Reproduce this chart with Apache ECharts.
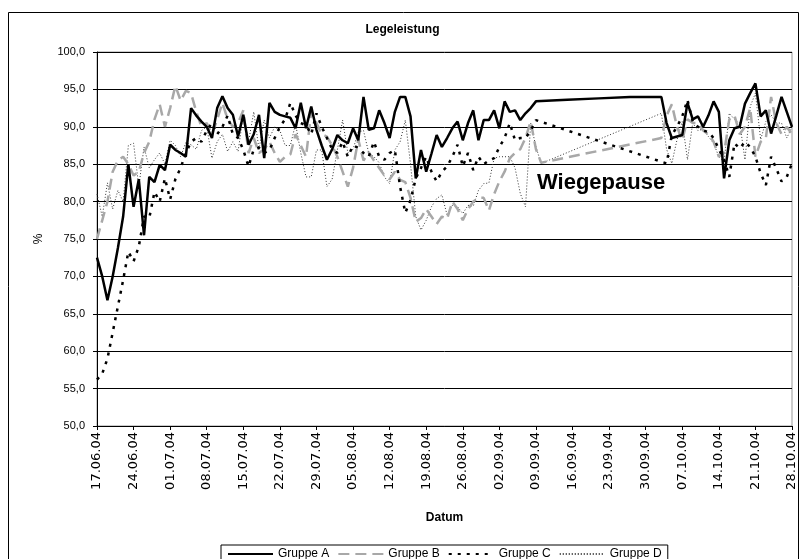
<!DOCTYPE html>
<html>
<head>
<meta charset="utf-8">
<script src="https://cdn.jsdelivr.net/npm/echarts@6/dist/echarts.min.js"></script>
<style>
  html, body { margin: 0; padding: 0; background: #fff; }
  #chart { width: 805px; height: 559px; }
</style>
</head>
<body>
<div id="chart"></div>
<script>
// one value per day, starting 17.06.04; null = no weighing that day
const startDate = [2004, 5, 17];
const dayCount = 134;

const gruppeA = [
  72.5, 70, 66.8, 70, 73.8, 78, 85, 79.3, 83, 75.5,
  83.3, 82.6, 84.9, 84.2, 87.6, 86.9, 86.5, 86, 92.5, 91.5,
  90.7, 90, 88.5, 92.5, 94.1, 92.5, 91.6, 88.7, 91.6, 87.6,
  89, 91.6, 85.8, 93.2, 92, 91.6, 91.4, 91.2, 89.8, 93.2,
  89.8, 92.7, 89.6, 87.5, 85.6, 87, 88.9, 88.2, 87.8, 89.8,
  88.2, 94, 89.6, 89.8, 92.2, 90.5, 88.5, 92, 94, 94,
  91.4, 83.1, 86.9, 84, 86.4, 88.9, 87.3, 88.5, 89.8, 90.7,
  88.2, 90.5, 92.2, 88.2, 90.9, 90.9, 92.2, 89.8, 93.4, 92,
  92.2, 90.9, 91.8, 92.5, 93.4, null, null, null, null, null,
  93.6, null, null, null, null, null, 93.8, null, null, null,
  null, null, 94, null, null, null, null, null, 94, 90.5,
  88.5, 88.7, 88.9, 93.2, 91, 91.4, 90, 91.5, 93.4, 92,
  83.1, 88.2, 89.8, 90, 93.1, 94.5, 95.8, 91.4, 92.2, 89.1,
  91.5, 94, 92, 90
];

const gruppeB = [
  75, 77.5, 80, 84, 85.5, 86, 85, 83.5, 84, 86.5,
  88, 91, 93, 90, 92.5, 95.5, 93.5, 94.8, 94.5, 92,
  90, 90.5, 89, 91, 93.2, 91, 90, 90.5, 92.2, 86.5,
  88.5, 86.5, 87, 88, 86.5, 85.3, 86, 86.3, 89, 87.5,
  86, 92, 90.5, 89, 88.7, 87.5, 86, 84, 82, 84.5,
  88.3, 85.5, 86.6, 85.5, 84.5, 83.5, 83, 84, 82.9, 82.6,
  80.5, 77.3, 77.8, 79, 78, 77, 78, 77.7, 80, 79,
  77.5, 79, 80, 80.5, 80.5, 78.8, 81, 82.7, 84, 85.8,
  86.5, 87, 88.5, 90.7, 87, 85.2, null, null, null, null,
  null, null, null, null, null, null, null, null, null, null,
  null, null, null, null, null, null, null, null, 88.5, 91.5,
  93, 90, 88.2, 91, 90.5, 90.5, 89.5, 89, 88, 86,
  86.5, 91, 91.5, 89, 90, 92.5, 86, 88, 88.5, 94,
  90.5, 89, 90, 89
];

const gruppeC = [
  56.2, 57, 59, 62.5, 66, 69.5, 73.3, 72, 74, 78,
  77.8, 81.3, 80, 83.1, 80.3, 83, 84.5, 86.5, 88, 88.5,
  88, 89.5, 90.5, 89, 90, 91.5, 89, 88.5, 86.9, 84.7,
  87, 87.2, 86.5, 86.9, 88.5, 90, 91, 93.2, 91.5, 90.5,
  90.2, 89, 91.8, 90, 88.5, 87, 86.5, 88, 86, 87.5,
  87.2, 86.5, 86, 88, 86, 85.6, 86.5, 86.9, 82, 78.5,
  80.2, 83.1, 84.5, 86, 84, 82.7, 84, 84.7, 86, 87.6,
  84.7, 86.5, 84.2, 86, 85, 85.5, 85.8, 87.3, 88.5, 90.5,
  88.2, 88.5, 88.5, 89.5, 90.9, null, null, null, null, null,
  null, null, null, null, null, null, null, null, null, null,
  null, null, null, null, null, null, null, null, null, 85.1,
  88.9, 90, 91.4, 93.6, 90.7, 90, 89.5, 89.3, 88.5, 87,
  85.6, 83.3, 87.8, 87.1, 88, 87.3, 86, 83.8, 82.2, 86,
  84.4, 82.7, 83.3, 85.1
];

const gruppeD = [
  81, 78, 82.5, 79, 81.5, 80, 87.5, 87.8, 82, 87.3,
  84.5, 85.6, 86.5, 85, 88.2, 87.5, 86, 87.9, 87.6, 87,
  89.5, 90, 85.8, 88, 89, 86.7, 88, 86.7, 91.6, 88,
  92, 87, 90.9, 88.5, 90, 89.5, 87.5, 87.5, 90.4, 86.5,
  83.3, 83.3, 86.9, 86.9, 82, 83, 86.9, 90.9, 86.5, 87,
  89.3, 89.5, 86.5, 86, 85.2, 83.3, 82.4, 86.9, 88, 90.9,
  85, 78, 76.2, 77.5, 79.3, 80.4, 80.9, 78.2, 79.5, 79.3,
  78.4, 79.5, 79.4, 81.5, 82.4, 82.5, 85.8, 86, 86, 86,
  84.5, 81.1, 79.3, 90.5, 87.3, 85.1, null, null, null, null,
  null, null, null, null, null, null, null, null, null, null,
  null, null, null, null, null, null, null, null, 91.8, 87,
  85.1, 88.3, 90.7, 85.6, 90.5, 89.5, 89.7, 88.7, 87.8, 86,
  85.3, 91.8, 91, 90.5, 85.6, 92.7, 94.5, 88.3, 90.7, 91.6,
  90.5, 90.5, 88.5, 90
];

const seriesNames = ['Gruppe A', 'Gruppe B', 'Gruppe C', 'Gruppe D'];

function pad(n) { return n < 10 ? '0' + n : '' + n; }
const dates = [];
for (let i = 0; i < dayCount; i++) {
  const d = new Date(startDate[0], startDate[1], startDate[2] + i);
  dates.push(pad(d.getDate()) + '.' + pad(d.getMonth() + 1) + '.' + pad(d.getFullYear() % 100));
}

const font = 'Liberation Sans, Arial, sans-serif';
const chart = echarts.init(document.getElementById('chart'));

chart.setOption({
  animation: false,
  backgroundColor: '#fff',
  textStyle: { fontFamily: font, color: '#000' },
  title: {
    text: 'Legeleistung',
    left: 'center',
    top: 19,
    textStyle: { fontSize: 12, fontWeight: 'bold', color: '#000', fontFamily: font }
  },
  graphic: [
    {
      type: 'rect',
      shape: { x: 8.5, y: 12.5, width: 790, height: 560 },
      style: { fill: 'none', stroke: '#000', lineWidth: 1 },
      silent: true
    },
    {
      type: 'text',
      left: 537,
      top: 172,
      style: { text: 'Wiegepause', fill: '#000', font: 'bold 22px Liberation Sans, Arial, sans-serif' }
    }
  ],
  legend: {
    data: seriesNames,
    left: 221,
    top: 545,
    itemWidth: 45,
    itemHeight: 8,
    itemGap: 8,
    padding: [3, 6, 6, 6],
    borderColor: '#000',
    borderWidth: 1,
    borderRadius: 0,
    itemStyle: { opacity: 0 },
    textStyle: { fontSize: 12, color: '#000', fontFamily: font }
  },
  grid: {
    left: 97,
    right: 13,
    top: 52,
    bottom: 133,
    show: true,
    borderColor: '#999',
    borderWidth: 1
  },
  xAxis: {
    type: 'category',
    data: dates,
    boundaryGap: false,
    name: 'Datum',
    nameLocation: 'middle',
    nameGap: 86,
    nameTextStyle: { fontSize: 12, fontWeight: 'bold', color: '#000' },
    axisLine: { lineStyle: { color: '#000', width: 1 } },
    axisTick: { interval: 6, length: 4, lineStyle: { color: '#000' } },
    axisLabel: {
      interval: 6, rotate: 90, fontSize: 13, color: '#000', margin: 6,
      fontFamily: 'DejaVu Sans, sans-serif'
    },
    splitLine: { show: false }
  },
  yAxis: {
    type: 'value',
    min: 50,
    max: 100,
    interval: 5,
    name: '%',
    nameLocation: 'middle',
    nameGap: 52,
    nameRotate: 90,
    nameTextStyle: { fontSize: 12, color: '#000' },
    axisLine: { show: true, lineStyle: { color: '#000', width: 1 } },
    axisTick: { show: true, length: 4, lineStyle: { color: '#000' } },
    axisLabel: {
      fontSize: 11,
      color: '#000',
      margin: 12,
      formatter: function (v) { return v.toFixed(1).replace('.', ','); }
    },
    splitLine: { lineStyle: { color: '#000', width: 1 } }
  },
  series: [
    {
      name: 'Gruppe A', type: 'line', data: gruppeA, connectNulls: true,
      symbol: 'none', z: 5,
      lineStyle: { color: '#000', width: 2.5 },
      itemStyle: { color: '#000' }
    },
    {
      name: 'Gruppe B', type: 'line', data: gruppeB, connectNulls: true,
      symbol: 'none', z: 3,
      lineStyle: { color: '#a8a8a8', width: 2.5, type: [11, 6] },
      itemStyle: { color: '#a8a8a8' }
    },
    {
      name: 'Gruppe C', type: 'line', data: gruppeC, connectNulls: true,
      symbol: 'none', z: 4,
      lineStyle: { color: '#000', width: 2.5, type: [3, 6] },
      itemStyle: { color: '#000' }
    },
    {
      name: 'Gruppe D', type: 'line', data: gruppeD, connectNulls: true,
      symbol: 'none', z: 2,
      lineStyle: { color: '#333', width: 1, type: [1, 2] },
      itemStyle: { color: '#333' }
    }
  ]
});
</script>
</body>
</html>
